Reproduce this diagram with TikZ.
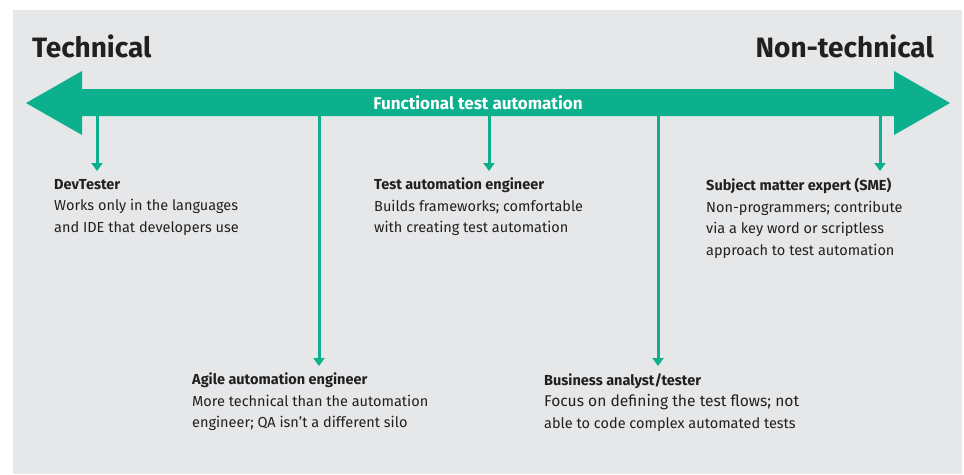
\documentclass[tikz,border=0pt]{standalone}
\usepackage{fontspec}
\setmainfont{Fira Sans}
\usetikzlibrary{arrows.meta}
\definecolor{hpegreen}{RGB}{13,176,141}
\definecolor{bggray}{RGB}{230,231,233}
\definecolor{ink}{RGB}{35,31,32}
\tikzset{
  band/.style={fill=hpegreen, draw=none},
  drop/.style={draw=hpegreen, line width=3pt, -{Triangle[width=11pt,length=8pt]}},
  role/.style={anchor=north west, align=left, inner sep=0pt, text=ink,
    font=\fontsize{14.5}{21.5}\selectfont},
  pole/.style={inner sep=0pt, text=ink, font=\fontsize{28}{30}\selectfont\bfseries},
}
\begin{document}
\begin{tikzpicture}[x=1pt,y=-1pt]
\useasboundingbox (0,0) rectangle (964,474);
\fill[white] (0,0) rectangle (964,474);
\fill[bggray] (13,10) rectangle (962,474);
% big double arrow
\fill[band] (26,103) -- (82,71) -- (82,89) -- (894,89) -- (894,71) -- (950,103)
  -- (894,135) -- (894,116) -- (82,116) -- (82,135) -- cycle;
\node (band) [inner sep=0pt, text=white, font=\fontsize{17}{20}\selectfont\bfseries] at (478,103) {Functional test automation};
\node (tech) [pole, anchor=base west] at (32,57) {Technical};
\node (nontech) [pole, anchor=base east] at (934,57) {Non-technical};
% coordinates on shaft
\coordinate (s1) at (97,116);
\coordinate (s2) at (319,116);
\coordinate (s3) at (489,116);
\coordinate (s4) at (658,116);
\coordinate (s5) at (880,116);
\coordinate (e1) at (97,171);
\coordinate (e2) at (319,366);
\coordinate (e3) at (489,171);
\coordinate (e4) at (658,366);
\coordinate (e5) at (880,171);
\draw[drop] (s1) -- (e1);
\draw[drop] (s2) -- (e2);
\draw[drop] (s3) -- (e3);
\draw[drop] (s4) -- (e4);
\draw[drop] (s5) -- (e5);
% role labels
\node (dev) [role] at (54,179) {\textbf{DevTester}\\Works only in the languages\\and IDE that developers use};
\node (tae) [role] at (374,178) {\textbf{Test automation engineer}\\Builds frameworks; comfortable\\with creating test automation};
\node (sme) [role] at (706,178) {\textbf{Subject matter expert (SME)}\\Non-programmers; contribute\\via a key word or scriptless\\approach to test automation};
\node (agile) [role] at (192,373) {\textbf{Agile automation engineer}\\More technical than the automation\\engineer; QA isn’t a different silo};
\node (ba) [role] at (544,373) {\textbf{Business analyst/tester}\\{\fontsize{15.6}{21.5}\selectfont Focus on defining the test flows; not}\\able to code complex automated tests};
\end{tikzpicture}
\end{document}
